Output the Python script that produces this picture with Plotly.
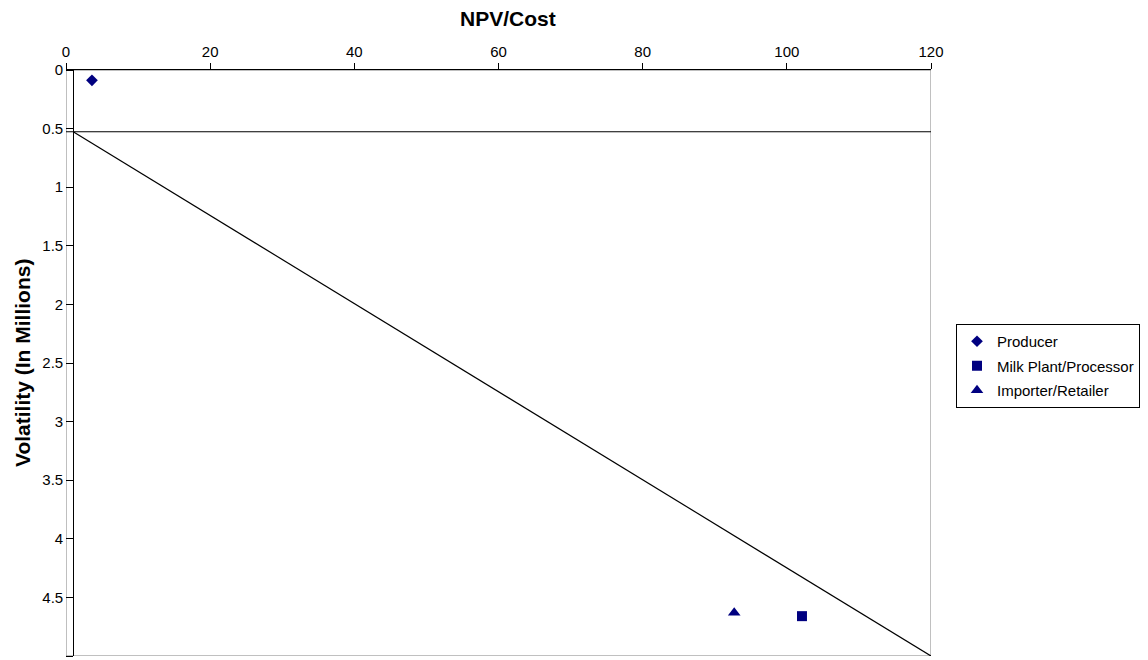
import plotly.graph_objects as go

# Data
series_names = ["Producer", "Milk Plant/Processor", "Importer/Retailer"]
npv_cost = [3.6, 102.1, 92.7]
volatility = [0.088, 4.66, 4.63]
marker_symbols = ["diamond", "square", "triangle-up"]
marker_sizes = [9, 10, 11]

# Reference lines
hline_x = [0, 120]
hline_y = [0.527, 0.527]
diag_x = [1, 120]
diag_y = [0.527, 5]

x_ticks = [0, 20, 40, 60, 80, 100, 120]
y_ticks = [0, 0.5, 1, 1.5, 2, 2.5, 3, 3.5, 4, 4.5, 5]

FONT = "Liberation Sans, Arial, sans-serif"
NAVY = "#000080"

fig = go.Figure()

fig.add_trace(go.Scatter(x=hline_x, y=hline_y, mode="lines",
                         line=dict(color="black", width=1.2), showlegend=False, hoverinfo="skip"))
fig.add_trace(go.Scatter(x=diag_x, y=diag_y, mode="lines",
                         line=dict(color="black", width=1.2), showlegend=False, hoverinfo="skip"))

for i, name in enumerate(series_names):
    fig.add_trace(go.Scatter(
        x=[npv_cost[i]], y=[volatility[i]], mode="markers", name=name,
        legendgroup=name,
        marker=dict(symbol=marker_symbols[i], color=NAVY, size=marker_sizes[i],
                    line=dict(width=0)),
    ))

fig.add_shape(type="rect", xref="x", yref="y", x0=0, x1=120, y0=0, y1=5,
              line=dict(color="#808080", width=1), layer="below")

# page has an 8px body margin -> figure is offset by 8px
fig.update_layout(
    width=1140, height=652,
    paper_bgcolor="white", plot_bgcolor="white",
    margin=dict(l=58, r=217, t=62, b=4),
    font=dict(family=FONT, size=15, color="black"),
    xaxis=dict(range=[0, 120], side="top", tickvals=x_ticks, ticks="outside",
               ticklen=6, tickcolor="black", showline=True, linecolor="black",
               linewidth=1, showgrid=False, zeroline=False,
               tickfont=dict(size=15)),
    yaxis=dict(range=[5, 0], tickvals=y_ticks, ticktext=[f"{v:g}" for v in y_ticks],
               ticks="outside", ticklen=7, tickcolor="black", showline=True,
               linecolor="black", linewidth=1, showgrid=False, zeroline=False,
               anchor="free", position=1/120, tickfont=dict(size=15)),
    legend=dict(x=(956 - 66) / 865, y=(656 - 324) / 586, xanchor="left", yanchor="top",
                bordercolor="black", borderwidth=1, bgcolor="white",
                font=dict(size=15), tracegroupgap=2, itemwidth=30),
    annotations=[
        dict(text="<b>NPV/Cost</b>", xref="paper", yref="paper",
             x=(508 - 66) / 865, y=(656 - 19) / 586, xanchor="center", yanchor="middle",
             showarrow=False, font=dict(size=21)),
        dict(text="<b>Volatility (In Millions)</b>", xref="paper", yref="paper",
             x=(22 - 66) / 865, y=(656 - 363) / 586, xanchor="center", yanchor="middle",
             textangle=-90, showarrow=False, font=dict(size=21)),
    ],
)

fig.write_html("out.html")
